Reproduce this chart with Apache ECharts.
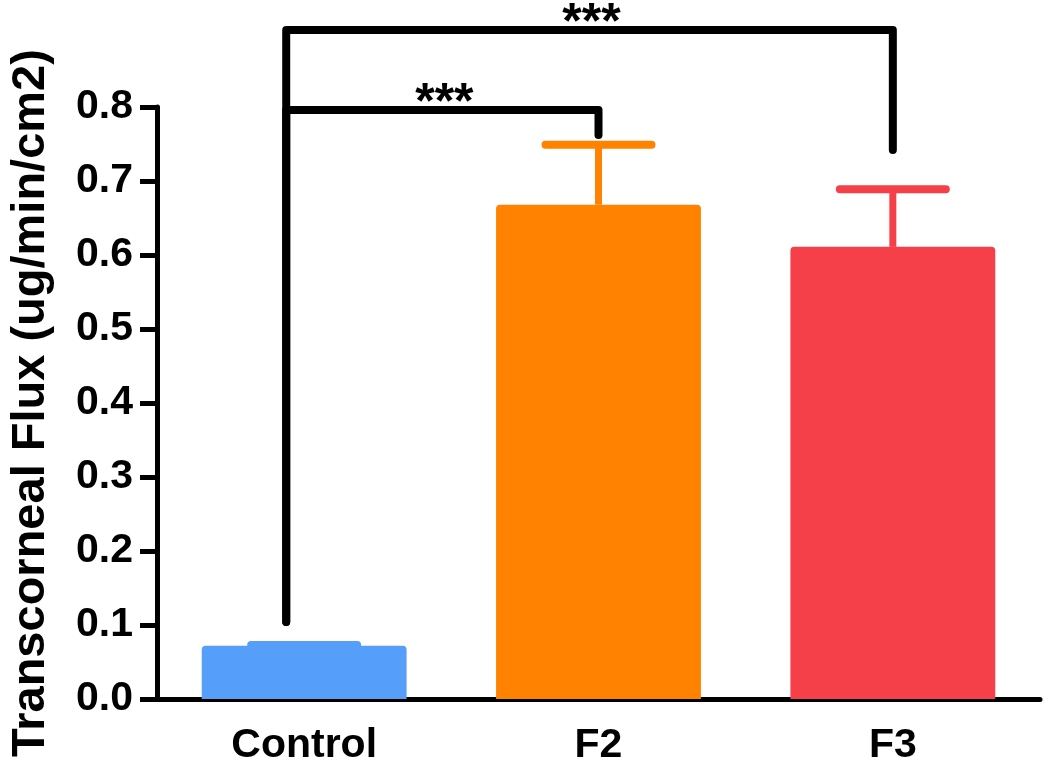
<!DOCTYPE html>
<html>
<head>
<meta charset="utf-8">
<script src="https://cdn.jsdelivr.net/npm/echarts@6/dist/echarts.min.js"></script>
<style>
html,body{margin:0;padding:0;background:#fff;}
#chart{width:1050px;height:775px;}
</style>
</head>
<body>
<div id="chart"></div>
<script>
// ---- data ----
var categories = ['Control', 'F2', 'F3'];
var means = [0.072, 0.668, 0.611];
var errTops = [0.073, 0.749, 0.689];
var barColors = ['#559FFB', '#FF8200', '#F5404A'];
var yTicks = [0, 0.8, 0.1]; // min, max, interval
// significance brackets: from category, to category, bracket level, end level at "to" bar, label
var bracketFrom = [0, 0];
var bracketTo = [1, 2];
var bracketLevel = [0.796, 0.904];
var bracketEnd = [0.762, 0.742];
var bracketStart = 0.104;
var bracketLabel = ['***', '***'];

var chart = echarts.init(document.getElementById('chart'), null, {renderer: 'canvas'});
var FONT = '"Liberation Sans", Arial, sans-serif';

var barData = means.map(function (v, i) {
  return {value: v, itemStyle: {color: barColors[i]}};
});
var errData = errTops.map(function (v, i) { return [i, means[i], v]; });
var brData = bracketFrom.map(function (f, i) {
  return [f, bracketTo[i], bracketLevel[i], bracketEnd[i], bracketStart, i];
});

chart.setOption({
  animation: false,
  backgroundColor: '#fff',
  grid: {left: 152, right: 10, top: 107, bottom: 76, containLabel: false},
  xAxis: {
    type: 'category',
    data: categories,
    axisLine: {lineStyle: {color: '#000', width: 5}},
    axisTick: {alignWithLabel: true, length: 17, lineStyle: {color: '#000', width: 5}},
    axisLabel: {color: '#000', fontFamily: FONT, fontWeight: 'bold', fontSize: 41, margin: 26}
  },
  yAxis: {
    type: 'value',
    min: yTicks[0], max: yTicks[1], interval: yTicks[2],
    name: 'Transcorneal Flux (ug/min/cm2)',
    nameLocation: 'middle',
    nameGap: 102,
    nameTextStyle: {color: '#000', fontFamily: FONT, fontWeight: 'bold', fontSize: 47},
    axisLine: {show: true, lineStyle: {color: '#000', width: 5}},
    axisTick: {show: true, length: 17, lineStyle: {color: '#000', width: 5}},
    splitLine: {show: false},
    axisLabel: {color: '#000', fontFamily: FONT, fontWeight: 'bold', fontSize: 41, margin: 24,
      formatter: function (v) { return v.toFixed(1); }}
  },
  series: [
    {
      type: 'bar',
      data: barData,
      barWidth: '69.6%',
      itemStyle: {borderRadius: [4, 4, 0, 0]},
      z: 2
    },
    {
      type: 'custom',
      data: errData,
      z: 3,
      renderItem: function (params, api) {
        var i = api.value(0);
        var base = api.coord([i, api.value(1)]);
        var top = api.coord([i, api.value(2)]);
        var band = api.size([1, 0])[0];
        var hw = band * 0.18;
        var c = barColors[params.dataIndex];
        return {
          type: 'group',
          children: [
            {type: 'line', shape: {x1: base[0], y1: base[1], x2: top[0], y2: top[1]},
              style: {stroke: c, lineWidth: 7}},
            {type: 'line', shape: {x1: top[0] - hw, y1: top[1], x2: top[0] + hw, y2: top[1]},
              style: {stroke: c, lineWidth: 8, lineCap: 'round'}}
          ]
        };
      }
    },
    {
      type: 'custom',
      data: brData,
      clip: false,
      z: 4,
      renderItem: function (params, api) {
        var f = api.value(0), t = api.value(1);
        var band = api.size([1, 0])[0];
        var off = -band * 0.061;
        var pStart = api.coord([f, api.value(4)]);
        var pLevelL = api.coord([f, api.value(2)]);
        var pLevelR = api.coord([t, api.value(2)]);
        var pEnd = api.coord([t, api.value(3)]);
        var xL = pStart[0] + off;
        var label = bracketLabel[api.value(5)];
        return {
          type: 'group',
          children: [
            {type: 'polyline', shape: {points: [[xL, pStart[1]], [xL, pLevelL[1]], [pLevelR[0], pLevelR[1]], [pEnd[0], pEnd[1]]]},
              style: {stroke: '#000', lineWidth: 8, fill: null, lineCap: 'round', lineJoin: 'round'}},
            {type: 'text', x: (xL + pLevelR[0]) / 2 + 2, y: pLevelL[1] - 6,
              style: {text: label, fill: '#000', font: 'bold 50px ' + FONT, align: 'center', verticalAlign: 'middle'}}
          ]
        };
      }
    }
  ]
});
</script>
</body>
</html>
